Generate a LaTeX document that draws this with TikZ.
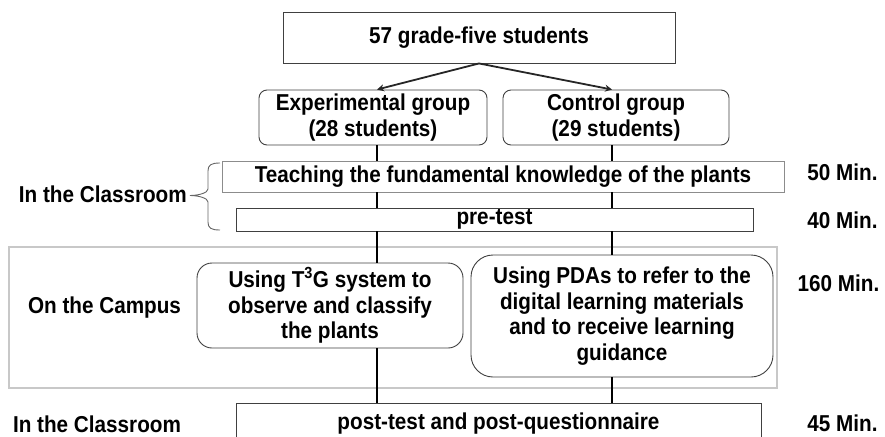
\documentclass[tikz,border=0pt]{standalone}
\usepackage{fontspec}
\setmainfont{Liberation Sans}[FakeStretch=0.9]
\usetikzlibrary{arrows.meta}
\definecolor{boxline}{HTML}{404040}
\definecolor{lightline}{HTML}{8C8C8C}
\definecolor{arealine}{HTML}{C8C8C8}
\tikzset{
  txt/.style={font=\fontsize{23}{25.5}\selectfont\bfseries, align=center, text=black},
  sqbox/.style={txt, draw=boxline, line width=0.9pt, inner sep=0pt, fill=white},
  rbox/.style={sqbox, rounded corners=#1},
  lbl/.style={txt, inner sep=0pt, anchor=base},
  flow/.style={draw=black, line width=2.4pt},
  split/.style={draw=black!85, line width=1.8pt, -{Stealth[length=7pt,width=7pt]}},
  bracestyle/.style={draw=black!60, line width=0.9pt}
}
\begin{document}
\begin{tikzpicture}[x=1pt,y=-1pt]
\useasboundingbox (0,0) rectangle (885,436);
% campus area
\draw[arealine, line width=2pt] (9,247) rectangle (777,388);
% column positions
\coordinate (colL) at (377,0);
\coordinate (colR) at (612,0);
% nodes
\node[sqbox, minimum width=392pt, minimum height=51pt] (top) at (479,37.5) {57 grade-five students};
\node[rbox=8pt, minimum width=228pt, minimum height=55pt] (exp) at (373,117.5) {Experimental group\\(28 students)};
\node[rbox=8pt, minimum width=226pt, minimum height=55pt] (ctrl) at (616,117.5) {Control group\\(29 students)};
\node[sqbox, draw=lightline, minimum width=562pt, minimum height=31pt] (teach) at (503,176.5) {Teaching the fundamental knowledge of the plants};
\node[sqbox, minimum width=517pt, minimum height=23pt] (pre) at (494.5,219.5) {pre-test};
\node[rbox=15pt, minimum width=266pt, minimum height=85pt] (t3g) at (330,305.5) {Using T\textsuperscript{3}G system to\\observe and classify\\the plants};
\node[rbox=22pt, minimum width=302pt, minimum height=122pt] (pda) at (622,316) {Using PDAs to refer to the\\digital learning materials\\and to receive learning\\guidance};
\node[sqbox, minimum width=525pt, minimum height=42pt] (post) at (498.5,424) {post-test and post-questionnaire};
% side labels
\node[lbl, anchor=base east] (cls1) at (187,202) {In the Classroom};
\node[lbl] (camp) at (104.5,313) {On the Campus};
\node[lbl] (cls2) at (97,432) {In the Classroom};
\node[lbl] (m50) at (842.5,180) {50 Min.};
\node[lbl] (m40) at (842.5,228) {40 Min.};
\node[lbl] (m160) at (838.5,291) {160 Min.};
\node[lbl] (m45) at (842.5,431) {45 Min.};
% brace
\draw[bracestyle] (220,163) .. controls (211,163) and (208,165) .. (208,171) -- (208,189) .. controls (208,193) and (198,195.5) .. (190,195.5) .. controls (198,195.5) and (208,198) .. (208,202) -- (208,222) .. controls (208,228) and (211,230) .. (220,230);
% split arrows
\draw[split] (top.south) -- (exp.north -| colL);
\draw[split] (top.south) -- (ctrl.north -| colR);
% flow lines
\draw[flow] (exp.south -| colL) -- (teach.north -| colL);
\draw[flow] (ctrl.south -| colR) -- (teach.north -| colR);
\draw[flow] (teach.south -| colL) -- (pre.north -| colL);
\draw[flow] (teach.south -| colR) -- (pre.north -| colR);
\draw[flow] (pre.south -| colL) -- (t3g.north -| colL);
\draw[flow] (pre.south -| colR) -- (pda.north -| colR);
\draw[flow] (t3g.south -| colL) -- (post.north -| colL);
\draw[flow] (pda.south -| colR) -- (post.north -| colR);
\end{tikzpicture}
\end{document}
